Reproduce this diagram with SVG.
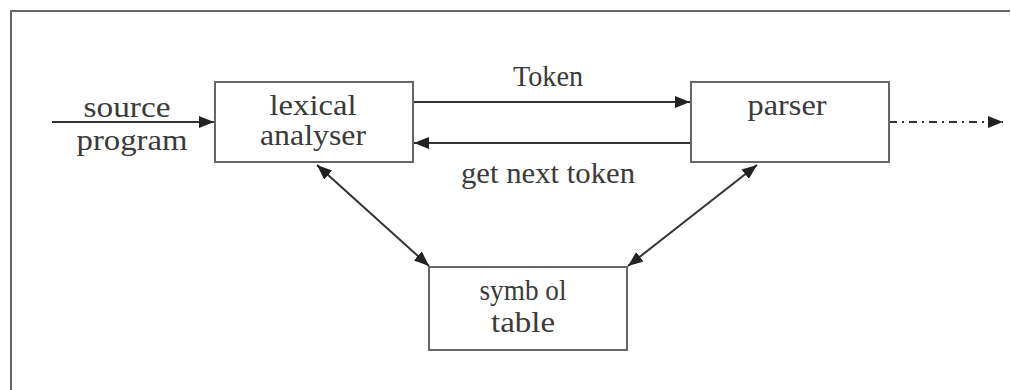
<svg xmlns="http://www.w3.org/2000/svg" width="1011" height="390" viewBox="0 0 1011 390">
<style>
.box{fill:#fff;stroke:#666;stroke-width:2}
.ln{stroke:#333;stroke-width:2;fill:none}
.t{font-family:"Liberation Serif",serif;font-size:29px;fill:#3a3a3a;text-anchor:middle}
.frame{stroke:#666;stroke-width:2;fill:none}
</style>
<defs>
<marker id="ah" viewBox="0 0 15 12" refX="15" refY="6" markerWidth="15" markerHeight="12" markerUnits="userSpaceOnUse" orient="auto-start-reverse">
<path d="M0,0 L15,6 L0,12 Z" fill="#222"/>
</marker>
</defs>
<rect width="1011" height="390" fill="#fff"/>
<path class="frame" d="M11,390 V11 H1010"/>
<g id="connectors">
<line class="ln" x1="52" y1="122" x2="214" y2="122" marker-end="url(#ah)"/>
<line class="ln" x1="413" y1="102" x2="690" y2="102" marker-end="url(#ah)"/>
<line class="ln" x1="691" y1="143" x2="414" y2="143" marker-end="url(#ah)"/>
<line class="ln" x1="889" y1="122" x2="1003" y2="122" stroke-dasharray="8 5 2 5" marker-end="url(#ah)"/>
<line class="ln" x1="317" y1="165" x2="429" y2="266" marker-start="url(#ah)" marker-end="url(#ah)"/>
<line class="ln" x1="757" y1="165" x2="628" y2="266" marker-start="url(#ah)" marker-end="url(#ah)"/>
<text class="t" x="548" y="86" textLength="70" lengthAdjust="spacingAndGlyphs">Token</text>
<text class="t" x="548" y="183" textLength="174" lengthAdjust="spacingAndGlyphs">get next token</text>
<text class="t" x="127" y="117" textLength="87" lengthAdjust="spacingAndGlyphs">source</text>
<text class="t" x="132" y="150" textLength="111" lengthAdjust="spacingAndGlyphs">program</text>
</g>
<g id="lexical">
<rect class="box" x="215" y="82" width="198" height="80"/>
<text class="t" x="313" y="115" textLength="87" lengthAdjust="spacingAndGlyphs">lexical</text>
<text class="t" x="313" y="145" textLength="106" lengthAdjust="spacingAndGlyphs">analyser</text>
</g>
<g id="parser">
<rect class="box" x="691" y="82" width="198" height="80"/>
<text class="t" x="787" y="115" textLength="79" lengthAdjust="spacingAndGlyphs">parser</text>
</g>
<g id="symbol">
<rect class="box" x="429" y="267" width="198" height="83"/>
<text class="t" x="523" y="300" textLength="87" lengthAdjust="spacingAndGlyphs">symb ol</text>
<text class="t" x="523" y="332" textLength="64" lengthAdjust="spacingAndGlyphs">table</text>
</g>
</svg>
